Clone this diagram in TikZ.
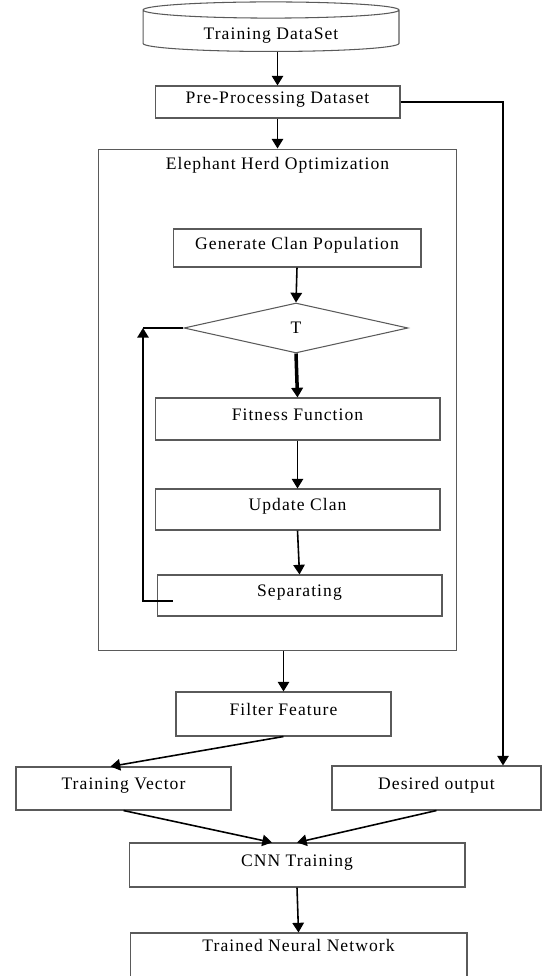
\documentclass[tikz,border=0pt]{standalone}
\usepackage{fontspec}
\setmainfont{Liberation Serif}[LetterSpace=6]
\usepackage{tikz}
\usetikzlibrary{arrows.meta}
\usetikzlibrary{shapes.geometric}
\definecolor{boxgray}{RGB}{90,90,90}
\tikzset{
    common/.style={draw=boxgray, line width=0.6pt, rectangle, inner sep=0pt, font=\fontsize{10}{12}\selectfont},
    stepbox/.style={common, minimum height=0.84cm, text height=0.25cm, text depth=0.2cm},
    store/.style={common, cylinder, shape border rotate=90, aspect=0.12, minimum width=5.12cm, minimum height=0.9cm, text height=0.42cm},
    test/.style={common, diamond, minimum width=4.48cm, minimum height=1cm},
    flow/.style={->, line width=0.9pt},
    heavyflow/.style={->, line width=2pt},
    >={Triangle[length=5.5pt, width=6.5pt]}
}

\begin{document}
\begin{tikzpicture}[x=0.02cm, y=-0.02cm]
    \useasboundingbox (0,0) rectangle (542,976);

    % outer column
    \node[store] (data) at (271,31) {Training DataSet};
    \node[stepbox, minimum width=4.9cm, minimum height=0.64cm] (pre) at (277.5,102) {Pre-Processing Dataset};
    \node[common, minimum width=7.18cm, minimum height=10.04cm] (eho) at (277.5,400) {};
    \node[font=\fontsize{10}{12}\selectfont] (eho-title) at (277.5,165) {Elephant Herd Optimization};

    % inside the optimization block
    \node[stepbox, minimum width=4.96cm, minimum height=0.76cm] (gen) at (297,248) {Generate Clan Population};
    \node[test] (cond) at (296,328) {T};
    \node[stepbox, minimum width=5.7cm] (fit) at (297.5,419) {Fitness Function};
    \node[stepbox, minimum width=5.7cm, minimum height=0.82cm] (upd) at (297.5,509.5) {Update Clan};
    \node[stepbox, minimum width=5.7cm, minimum height=0.82cm] (sep) at (299.5,595.5) {Separating};
    \coordinate (loop-top) at (143,328);

    % after the block
    \node[stepbox, minimum width=4.3cm, minimum height=0.88cm] (filt) at (283.5,714) {Filter Feature};
    \node[stepbox, minimum width=4.3cm, minimum height=0.86cm] (tvec) at (123.5,788.5) {Training Vector};
    \node[stepbox, minimum width=4.18cm, minimum height=0.88cm] (des) at (436.5,788) {Desired output};
    \node[stepbox, minimum width=6.72cm, minimum height=0.88cm] (cnn) at (297,865) {CNN Training};
    \node[stepbox, minimum width=6.74cm, minimum height=1.1cm, text depth=0.6cm] (tnn) at (298.5,960.5) {Trained Neural Network};
    \coordinate (side) at (503,102);

    \draw[flow] (pre.north |- data.south) -- (pre.north);
    \draw[flow] (pre.south) -- (pre.south |- eho.north);
    \draw[flow] (pre.east) -- (side) -- (side |- des.north);

    \draw[flow] (gen.south) -- (cond.north);
    \draw[heavyflow] (cond.south) -- (fit.north);
    \draw[flow] (fit.south) -- (upd.north);
    \draw[flow] (upd.south) -- (sep.north);
    \draw[flow] ([shift={(16,5.5)}]sep.west) -| (loop-top);
    \draw[line width=0.9pt] (cond.west) -- (loop-top);

    \draw[flow] (filt.north |- eho.south) -- (filt.north);
    \draw[flow] (filt.south) -- ([xshift=-0.26cm]tvec.north);
    \draw[flow] (tvec.south) -- ([xshift=-0.5cm]cnn.north);
    \draw[flow] (des.south) -- (cnn.north);
    \draw[flow] (cnn.south) -- (tnn.north);
\end{tikzpicture}
\end{document}
